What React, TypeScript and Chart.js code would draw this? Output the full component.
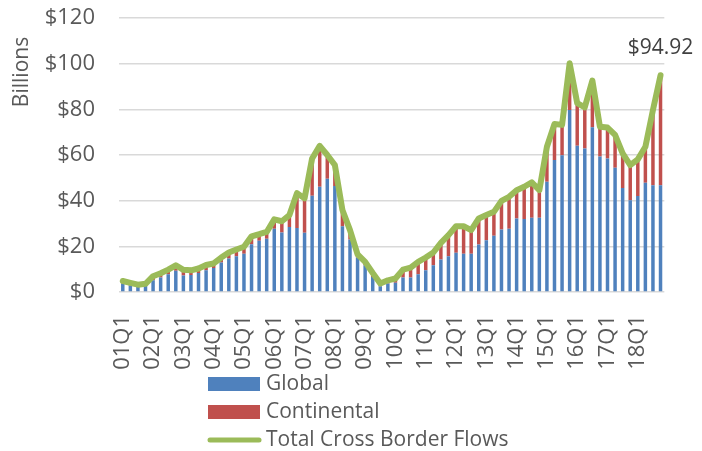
import React, { useEffect, useRef } from 'react';
import { Chart, registerables } from 'chart.js';

Chart.register(...registerables);

const years = ['01', '02', '03', '04', '05', '06', '07', '08', '09', '10', '11', '12', '13', '14', '15', '16', '17', '18'];
const quarters = ['Q1', 'Q2', 'Q3', 'Q4'];
const labels: string[] = [];
years.forEach((y) => quarters.forEach((q) => labels.push(y + q)));

const globalFlows = [
  3.6, 2.9, 2.4, 2.9, 5.1, 6.4, 7.8, 9.3, 7.2, 7.5, 8.3, 9.5,
  10.5, 12.9, 14.7, 15.7, 16.8, 20.9, 22.4, 23.3, 27.7, 26.1, 28.5, 28.0,
  25.9, 42.1, 46.1, 49.6, 46.4, 28.8, 23.0, 15.1, 11.7, 6.6, 2.5, 3.7,
  4.0, 6.3, 6.3, 7.8, 9.5, 11.7, 14.2, 15.7, 17.2, 16.8, 16.8, 20.8,
  22.7, 24.6, 27.4, 27.7, 32.2, 32.0, 32.5, 32.5, 48.3, 57.8, 59.9, 79.7,
  64.1, 62.9, 72.2, 59.3, 58.5, 54.4, 45.6, 40.2, 42.0, 47.8, 46.7, 46.7,
];

const continentalFlows = [
  1.2, 1.1, 0.8, 0.7, 1.8, 1.8, 2.0, 2.4, 2.5, 2.0, 2.0, 2.3,
  2.0, 2.2, 2.6, 2.9, 3.0, 3.5, 2.9, 3.0, 4.1, 4.9, 5.2, 15.3,
  15.1, 16.4, 17.9, 10.4, 9.2, 7.1, 4.1, 1.4, 1.5, 1.7, 1.2, 1.4,
  1.9, 3.5, 4.4, 5.4, 5.6, 5.6, 7.3, 9.2, 11.6, 12.0, 10.3, 11.4,
  11.0, 10.5, 12.5, 14.0, 12.4, 14.1, 15.5, 12.1, 15.3, 15.8, 13.3, 20.5,
  18.6, 18.0, 20.4, 13.1, 13.5, 14.4, 15.1, 15.4, 16.1, 15.8, 33.0, 48.22,
];

const totalFlows = [
  4.8, 4.0, 3.2, 3.6, 6.9, 8.2, 9.8, 11.7, 9.7, 9.5, 10.3, 11.8,
  12.5, 15.1, 17.3, 18.6, 19.8, 24.4, 25.3, 26.3, 31.8, 31.0, 33.7, 43.3,
  41.0, 58.5, 64.0, 60.0, 55.6, 35.9, 27.1, 16.5, 13.2, 8.3, 3.7, 5.1,
  5.9, 9.8, 10.7, 13.2, 15.1, 17.3, 21.5, 24.9, 28.8, 28.8, 27.1, 32.2,
  33.7, 35.1, 39.9, 41.7, 44.6, 46.1, 48.0, 44.6, 63.6, 73.6, 73.2, 100.2,
  82.7, 80.9, 92.6, 72.4, 72.0, 68.8, 60.7, 55.6, 58.1, 63.6, 79.7, 94.92,
];

const yTicks = [0, 20, 40, 60, 80, 100, 120];

const FONT = "'Open Sans', 'Noto Sans', sans-serif";
const TEXT = '#595959';
const BLUE = '#4f81bd';
const RED = '#c0504d';
const GREEN = '#9bbb59';

const extrasPlugin = {
  id: 'extras',
  afterDraw(chart: any) {
    const ctx = chart.ctx;
    ctx.save();
    // axis title
    ctx.fillStyle = TEXT;
    ctx.font = `21px ${FONT}`;
    ctx.translate(22, 72);
    ctx.rotate(-Math.PI / 2);
    ctx.textAlign = 'center';
    ctx.textBaseline = 'middle';
    ctx.fillText('Billions', 0, 0);
    ctx.restore();

    // last point label
    const lineIdx = chart.data.datasets.findIndex((d: any) => d.type === 'line');
    const meta = chart.getDatasetMeta(lineIdx);
    const pts = meta.data;
    const last = pts[pts.length - 1];
    const val = chart.data.datasets[lineIdx].data[pts.length - 1];
    const txt = '$' + Number(val).toFixed(2);
    ctx.save();
    ctx.font = `21px ${FONT}`;
    ctx.fillStyle = '#404040';
    const w = ctx.measureText(txt).width;
    const cx = Math.min(last.x, chart.width - w / 2 - 2);
    ctx.textAlign = 'center';
    ctx.textBaseline = 'middle';
    ctx.fillText(txt, cx, last.y - 27);
    ctx.restore();

    // legend
    const order = ['Global', 'Continental', 'Total Cross Border Flows'];
    const rowsY = [384, 412, 440];
    ctx.save();
    ctx.font = `21px ${FONT}`;
    ctx.textBaseline = 'middle';
    ctx.textAlign = 'left';
    order.forEach((name, i) => {
      const ds = chart.data.datasets.find((d: any) => d.label === name);
      const y = rowsY[i];
      if (ds.type === 'line') {
        ctx.strokeStyle = ds.borderColor;
        ctx.lineWidth = 5;
        ctx.lineCap = 'round';
        ctx.beginPath();
        ctx.moveTo(210, y);
        ctx.lineTo(259, y);
        ctx.stroke();
      } else {
        ctx.fillStyle = ds.backgroundColor;
        ctx.fillRect(208, y - 7, 52, 14);
      }
      ctx.fillStyle = TEXT;
      ctx.fillText(name, 266, y);
    });
    ctx.restore();
  },
};

function ChartView() {
  const ref = useRef<HTMLCanvasElement | null>(null);
  useEffect(() => {
    if (!ref.current) return;
    const chart = new Chart(ref.current, {
      data: {
        labels,
        datasets: [
          {
            type: 'line',
            label: 'Total Cross Border Flows',
            data: totalFlows,
            borderColor: GREEN,
            backgroundColor: GREEN,
            borderWidth: 6,
            pointRadius: 0,
            tension: 0,
            stack: 'total',
            order: 0,
            borderJoinStyle: 'round',
            borderCapStyle: 'round',
          } as any,
          {
            type: 'bar',
            label: 'Global',
            data: globalFlows,
            backgroundColor: BLUE,
            stack: 'bars',
            order: 1,
            barPercentage: 0.46,
            categoryPercentage: 1,
          },
          {
            type: 'bar',
            label: 'Continental',
            data: continentalFlows,
            backgroundColor: RED,
            stack: 'bars',
            order: 2,
            barPercentage: 0.46,
            categoryPercentage: 1,
          },
        ],
      },
      options: {
        animation: false,
        responsive: true,
        maintainAspectRatio: false,
        layout: { padding: { left: 0, right: 11, top: 18, bottom: 0 } },
        plugins: { legend: { display: false }, tooltip: { enabled: false } },
        scales: {
          x: {
            stacked: true,
            grid: { display: false },
            border: { display: false },
            ticks: {
              autoSkip: false,
              minRotation: 90,
              maxRotation: 90,
              padding: 15,
              color: TEXT,
              font: { family: FONT, size: 22 },
              callback: (_v: any, i: number) => (i % 4 === 0 ? labels[i] : ''),
            },
            afterFit: (s: any) => {
              s.height = 159;
            },
          },
          y: {
            stacked: true,
            min: 0,
            max: 120,
            afterBuildTicks: (s: any) => {
              s.ticks = yTicks.map((v) => ({ value: v }));
            },
            ticks: {
              padding: 24,
              color: TEXT,
              font: { family: FONT, size: 22 },
              callback: (v: any) => '$' + v,
            },
            grid: { color: '#d9d9d9', lineWidth: 1.5, drawTicks: false },
            border: { display: false },
            afterFit: (s: any) => {
              s.width = 119;
              s.paddingTop = 0;
              s.paddingBottom = 0;
            },
          },
        },
      } as any,
      plugins: [extrasPlugin],
    });
    return () => chart.destroy();
  }, []);
  return (
    <div style={{ position: 'fixed', left: 0, top: 0, width: 702, height: 451, background: '#fff' }}>
      <canvas ref={ref} />
    </div>
  );
}

export default function App() {
  return <ChartView />;
}
